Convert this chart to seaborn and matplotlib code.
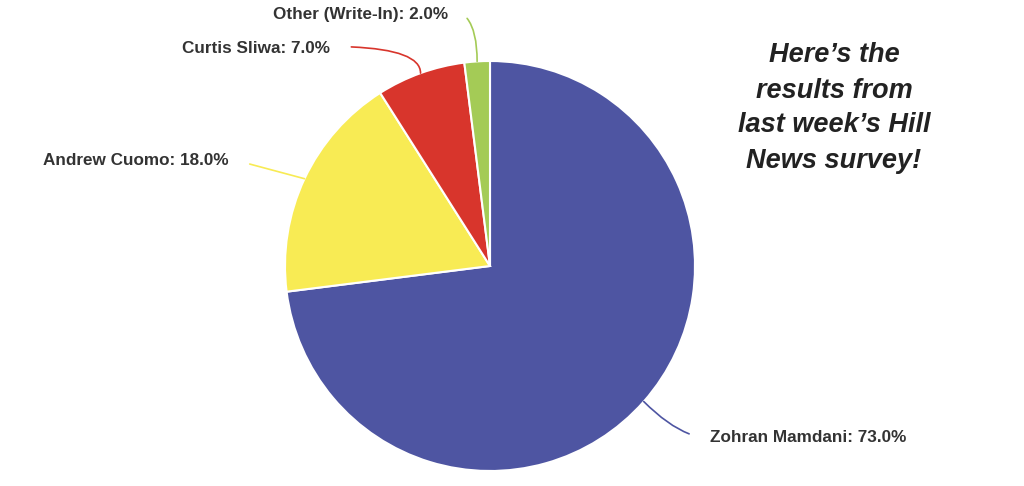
import numpy as np
import matplotlib
matplotlib.use("Agg")
import matplotlib.pyplot as plt
import seaborn as sns

# survey results
candidates = ["Zohran Mamdani", "Andrew Cuomo", "Curtis Sliwa", "Other (Write-In)"]
shares = [73.0, 18.0, 7.0, 2.0]
colors = ["#4e55a2", "#f8eb54", "#d8352c", "#a4cb56"]

sns.set_theme(style="white")
plt.rcParams["font.family"] = ["Liberation Sans", "DejaVu Sans"]

fig = plt.figure(figsize=(10.24, 4.86), dpi=100)
fig.patch.set_facecolor("white")

# pie axes: centre (490, 266) px, radius 205 px
ax = fig.add_axes([285 / 1024, 15 / 486, 410 / 1024, 410 / 486])
wedges, _ = ax.pie(shares, colors=colors, startangle=90, counterclock=False,
                   wedgeprops=dict(edgecolor="white", linewidth=1.5))
ax.set_xlim(-1, 1)
ax.set_ylim(-1, 1)
ax.set_aspect("equal")
ax.axis("off")


def px(x, y):
    # pixel position in figure -> pie data coords
    return (x - 490) / 205, (266 - y) / 205


# label placement (pixel), alignment, leader start and style
label_pos = {
    "Zohran Mamdani": ((710, 438), "left", (0, 0.5), "angle3,angleA=0,angleB=-45"),
    "Andrew Cuomo": ((229, 160), "right", (1, 0.6), "arc3,rad=0"),
    "Curtis Sliwa": ((330, 48), "right", (1, 0.6), "angle3,angleA=0,angleB=90"),
    "Other (Write-In)": ((448, 14), "right", (1, 0.8), "angle3,angleA=0,angleB=90"),
}

for w, name, val, col in zip(wedges, candidates, shares, colors):
    mid = np.deg2rad((w.theta1 + w.theta2) / 2)
    tip = (np.cos(mid), np.sin(mid))
    (tx, ty), ha, rel, conn = label_pos[name]
    ax.annotate(f"{name}: {val:.1f}%", xy=tip, xytext=px(tx, ty),
                ha=ha, va="center", fontsize=12.3, fontweight="bold",
                color="#333333", annotation_clip=False,
                arrowprops=dict(arrowstyle="-", color=col, lw=1.2,
                                shrinkA=13, shrinkB=0, relpos=rel,
                                connectionstyle=conn))

fig.text(834 / 1024, 1 - 108 / 486,
         "Here\u2019s the\nresults from\nlast week\u2019s Hill\nNews survey!",
         ha="center", va="center", fontsize=19.5, fontweight="bold",
         fontstyle="italic", color="#222222", linespacing=1.45)

fig.savefig("out.png", dpi=100, facecolor="white")
